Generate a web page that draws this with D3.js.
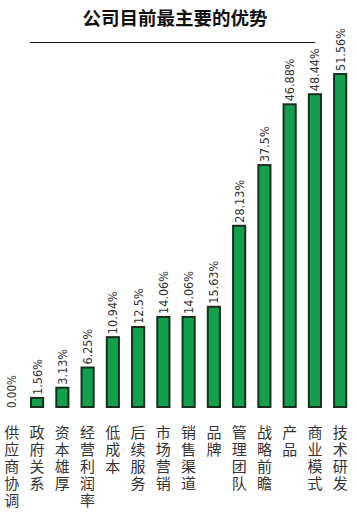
<!DOCTYPE html>
<html><head><meta charset="utf-8">
<script src="https://cdn.jsdelivr.net/npm/d3@7"></script>
<style>body{margin:0;background:#fff}</style>
</head><body>
<svg id="c" width="357" height="515"></svg>
<script>
const title = "公司目前最主要的优势";
const categories = ["供应商协调","政府关系","资本雄厚","经营利润率","低成本","后续服务","市场营销","销售渠道","品牌","管理团队","战略前瞻","产品","商业模式","技术研发"];
const values = [0.00,1.56,3.13,6.25,10.94,12.5,14.06,14.06,15.63,28.13,37.5,46.88,48.44,51.56];
const valueLabels = ["0.00%","1.56%","3.13%","6.25%","10.94%","12.5%","14.06%","14.06%","15.63%","28.13%","37.5%","46.88%","48.44%","51.56%"];

const svg = d3.select("#c");
const x = d3.scaleBand().domain(categories).range([-0.8, 352.8]).paddingInner(0.44).paddingOuter(0.22);
const y = d3.scaleLinear().domain([0, 51.56]).range([407, 73]);

svg.append("text").attr("x", 175).attr("y", 25).attr("text-anchor", "middle")
  .attr("font-family", "Noto Sans CJK SC").attr("font-weight", "bold").attr("font-size", 18.5)
  .attr("fill", "#111").text(title);
svg.append("line").attr("x1", 30).attr("x2", 315).attr("y1", 42.5).attr("y2", 42.5)
  .attr("stroke", "#111").attr("stroke-width", 1);

const cx = d => x(d) + x.bandwidth() / 2;

svg.selectAll("rect.bar").data(values.map((v, i) => ({v, c: categories[i]})).filter(d => d.v > 0))
  .join("rect").attr("class", "bar")
  .attr("x", d => x(d.c) + 1).attr("width", x.bandwidth() - 2)
  .attr("y", d => y(d.v) + 1).attr("height", d => y(0) - y(d.v) - 1)
  .attr("fill", "#12a04c").attr("stroke", "#1a2e1e").attr("stroke-width", 2);

svg.selectAll("text.val").data(values.map((v, i) => ({v, c: categories[i], l: valueLabels[i]})))
  .join("text").attr("class", "val")
  .attr("transform", d => `translate(${cx(d.c) + 4.5},${(d.v > 0 ? y(d.v) - 2 : y(0) + 1)}) rotate(-90)`)
  .attr("font-family", "DejaVu Sans Condensed").attr("font-stretch", "condensed")
  .attr("font-size", d => d.v > 0 ? 12.5 : 11.5).attr("fill", "#333").text(d => d.l);

const lab = svg.selectAll("text.cat").data(categories).join("text").attr("class", "cat")
  .attr("font-family", "Noto Sans CJK SC").attr("font-size", 15).attr("fill", "#333")
  .attr("text-anchor", "middle");
lab.each(function(c) {
  const t = d3.select(this);
  Array.from(c).forEach((ch, i) => {
    t.append("tspan").attr("x", cx(c)).attr("y", 438 + i * 17).text(ch);
  });
});
</script>
</body></html>
